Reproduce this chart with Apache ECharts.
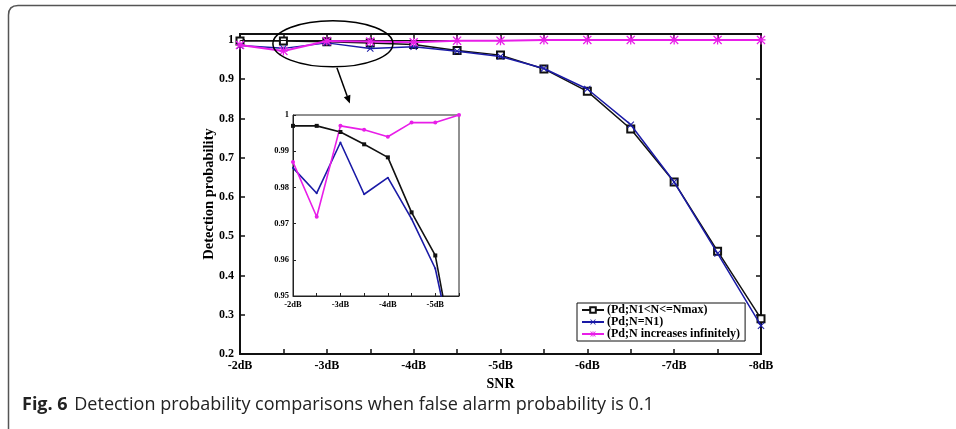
<!DOCTYPE html>
<html>
<head>
<meta charset="utf-8">
<script src="https://cdn.jsdelivr.net/npm/echarts@6/dist/echarts.min.js"></script>
<style>
  html, body { margin: 0; padding: 0; background: #fff; }
  #chart { width: 956px; height: 429px; }
</style>
</head>
<body>
<div id="chart"></div>
<script>
// SNR steps (0.5 dB)
var snrLabels = ['-2dB', '-2.5dB', '-3dB', '-3.5dB', '-4dB', '-4.5dB', '-5dB',
  '-5.5dB', '-6dB', '-6.5dB', '-7dB', '-7.5dB', '-8dB'];
// detection probability
var pdLimited = [0.997, 0.997, 0.9953, 0.9919, 0.9883, 0.9731, 0.9612, 0.926, 0.869, 0.773, 0.638, 0.462, 0.290];
var pdN1 = [0.9854, 0.9784, 0.9924, 0.9781, 0.9827, 0.9713, 0.9576, 0.927, 0.875, 0.784, 0.638, 0.456, 0.272];
var pdInfinite = [0.987, 0.9719, 0.997, 0.9959, 0.994, 0.9979, 0.9979, 1.0, 1.0, 1.0, 1.0, 1.0, 1.0];
var insetCount = 8; // zoomed view: -2dB .. -5.5dB

var nameA = '(Pd;N1<N<=Nmax)';
var nameB = '(Pd;N=N1)';
var nameC = '(Pd;N increases infinitely)';

var serif = '"Liberation Serif", "DejaVu Serif", serif';
var black = '#111111';
var blue = '#1a1aa6';
var magenta = '#e81ee8';

var crossPath = 'path://M0,1L1,0L5,4L9,0L10,1L6,5L10,9L9,10L5,6L1,10L0,9L4,5Z';
var starPath = 'path://M0,4.3L10,4.3L10,5.7L0,5.7Z M4.3,0L5.7,0L5.7,10L4.3,10Z M1,0L5,4L9,0L10,1L6,5L10,9L9,10L5,6L1,10L0,9L4,5L0,1Z';

var chart = echarts.init(document.getElementById('chart'));

var option = {
  animation: false,
  backgroundColor: '#fff',
  grid: [
    { left: 240, top: 34, right: 195, bottom: 75, show: true, borderColor: black, borderWidth: 1.5 },
    { left: 293, top: 115, width: 166, height: 181, show: true, backgroundColor: '#fff', borderColor: '#222', borderWidth: 1 }
  ],
  legend: {
    orient: 'vertical',
    left: 577,
    top: 303,
    padding: [1, 5, 1, 4],
    itemGap: 0,
    itemWidth: 22,
    itemHeight: 7,
    backgroundColor: '#fff',
    borderColor: black,
    borderWidth: 1,
    data: [nameA, nameB, nameC],
    textStyle: { fontFamily: serif, fontWeight: 'bold', fontSize: 12, lineHeight: 10, color: '#000', padding: [0, 0, 0, -2] }
  },
  xAxis: [
    {
      type: 'category', gridIndex: 0, data: snrLabels, boundaryGap: false,
      name: 'SNR', nameLocation: 'middle', nameGap: 21,
      nameTextStyle: { fontFamily: serif, fontWeight: 'bold', fontSize: 14, color: '#000' },
      axisLine: { lineStyle: { color: black, width: 2 } },
      axisTick: { inside: true, length: 5, interval: 0, lineStyle: { color: black, width: 1.5 } },
      axisLabel: { interval: 1, margin: 6, fontFamily: serif, fontWeight: 'bold', fontSize: 12, color: '#000' },
      splitLine: { show: false }
    },
    {
      type: 'category', gridIndex: 0, data: snrLabels, boundaryGap: false, position: 'top',
      axisLine: { lineStyle: { color: black, width: 2 } },
      axisTick: { inside: true, length: 5, interval: 0, lineStyle: { color: black, width: 1.5 } },
      axisLabel: { show: false },
      splitLine: { show: false }
    },
    {
      type: 'category', gridIndex: 1, data: snrLabels.slice(0, insetCount), boundaryGap: false,
      axisLine: { lineStyle: { color: '#222', width: 1 } },
      axisTick: { inside: true, length: 3, interval: 0, lineStyle: { color: '#222' } },
      axisLabel: { interval: 1, margin: 4, fontFamily: serif, fontWeight: 'bold', fontSize: 8.5, color: '#000' },
      splitLine: { show: false }
    }
  ],
  yAxis: [
    {
      type: 'value', gridIndex: 0, min: 0.2, max: 1.015, interval: 0.1,
      name: 'Detection probability', nameLocation: 'middle', nameGap: 23, nameMoveOverlap: false,
      nameTextStyle: { fontFamily: serif, fontWeight: 'bold', fontSize: 14.5, color: '#000' },
      axisLine: { show: true, lineStyle: { color: black, width: 2 } },
      axisTick: { show: true, inside: true, length: 5, lineStyle: { color: black, width: 1.5 } },
      axisLabel: {
        margin: 6, fontFamily: serif, fontWeight: 'bold', fontSize: 12, color: '#000',
        formatter: function (v) {
          var r = Math.round(v * 10) / 10;
          if (Math.abs(v - r) > 1e-6) return '';
          return r === 1 ? '1' : r.toFixed(1);
        }
      },
      splitLine: { show: false }
    },
    {
      type: 'value', gridIndex: 0, min: 0.2, max: 1.015, interval: 0.1, position: 'right',
      axisLine: { show: true, lineStyle: { color: black, width: 2 } },
      axisTick: { show: true, inside: true, length: 5, lineStyle: { color: black, width: 1.5 } },
      axisLabel: { show: false },
      splitLine: { show: false }
    },
    {
      type: 'value', gridIndex: 1, min: 0.95, max: 1, interval: 0.01,
      axisLine: { show: true, lineStyle: { color: '#222', width: 1 } },
      axisTick: { show: true, inside: true, length: 3, lineStyle: { color: '#222' } },
      axisLabel: {
        margin: 4, fontFamily: serif, fontWeight: 'bold', fontSize: 8.5, color: '#000',
        formatter: function (v) { return v >= 0.9999 ? '1' : v.toFixed(2); }
      },
      splitLine: { show: false }
    }
  ],
  series: [
    {
      name: nameA, type: 'line', xAxisIndex: 0, yAxisIndex: 0, z: 3,
      data: pdLimited, symbol: 'emptyRect', symbolSize: 7,
      lineStyle: { color: black, width: 1.5 },
      itemStyle: { color: black, borderColor: black, borderWidth: 1.2 },
      markLine: {
        silent: true, symbol: 'none', label: { show: false },
        lineStyle: { color: black, width: 1.2, type: 'solid' },
        data: [{ yAxis: 1 }]
      }
    },
    {
      name: nameB, type: 'line', xAxisIndex: 0, yAxisIndex: 0, z: 4,
      data: pdN1, symbol: crossPath, symbolSize: 7,
      lineStyle: { color: blue, width: 1.5 },
      itemStyle: { color: blue }
    },
    {
      name: nameC, type: 'line', xAxisIndex: 0, yAxisIndex: 0, z: 5,
      data: pdInfinite, symbol: starPath, symbolSize: 9,
      lineStyle: { color: magenta, width: 2 },
      itemStyle: { color: magenta }
    },
    {
      name: nameA, type: 'line', xAxisIndex: 2, yAxisIndex: 2, z: 6,
      data: pdLimited.slice(0, insetCount), symbol: 'rect', symbolSize: 4,
      lineStyle: { color: black, width: 1.6 }, itemStyle: { color: black }
    },
    {
      name: nameB, type: 'line', xAxisIndex: 2, yAxisIndex: 2, z: 6,
      data: pdN1.slice(0, insetCount), symbol: 'circle', symbolSize: 2,
      lineStyle: { color: blue, width: 1.6 }, itemStyle: { color: blue }
    },
    {
      name: nameC, type: 'line', xAxisIndex: 2, yAxisIndex: 2, z: 6,
      data: pdInfinite.slice(0, insetCount), symbol: 'circle', symbolSize: 4,
      lineStyle: { color: magenta, width: 1.6 }, itemStyle: { color: magenta }
    }
  ]
};

chart.setOption(option);

// pixel position on the main axes for a fractional category index
function mainPixel(idx, val) {
  var i0 = Math.floor(idx);
  var a = chart.convertToPixel({ xAxisIndex: 0, yAxisIndex: 0 }, [i0, val]);
  var b = chart.convertToPixel({ xAxisIndex: 0, yAxisIndex: 0 }, [i0 + 1, val]);
  return [a[0] + (b[0] - a[0]) * (idx - i0), a[1]];
}

// annotation ellipse around the zoomed region, arrow down to the inset
var c = mainPixel(2.14, 0.99);
var tip = mainPixel(2.53, 0.838);
var rx = 60, ry = 23;
var start = [c[0] + 4, c[1] + ry + 1];
var dx = tip[0] - start[0], dy = tip[1] - start[1];
var len = Math.sqrt(dx * dx + dy * dy);
var ux = dx / len, uy = dy / len;
var headL = 8, headW = 3.5;
var base = [tip[0] - ux * headL, tip[1] - uy * headL];

var frameStyle = { fill: 'none', stroke: '#555', lineWidth: 1.5 };

chart.setOption({
  graphic: [
    // page frame: left and top edges with a rounded corner
    { type: 'line', silent: true, z: -1, shape: { x1: 8.5, y1: 15, x2: 8.5, y2: 440 }, style: frameStyle },
    { type: 'line', silent: true, z: -1, shape: { x1: 18, y1: 5.5, x2: 960, y2: 5.5 }, style: frameStyle },
    { type: 'bezierCurve', silent: true, z: -1, shape: { x1: 8.5, y1: 15, cpx1: 8.5, cpy1: 5.5, x2: 18, y2: 5.5 }, style: frameStyle },
    {
      type: 'ellipse', silent: true, z: 100,
      shape: { cx: c[0], cy: c[1], rx: rx, ry: ry },
      style: { fill: 'none', stroke: '#000', lineWidth: 1.5 }
    },
    {
      type: 'line', silent: true, z: 100,
      shape: { x1: start[0], y1: start[1], x2: base[0], y2: base[1] },
      style: { stroke: '#000', lineWidth: 1.5 }
    },
    {
      type: 'polygon', silent: true, z: 100,
      shape: {
        points: [tip, [base[0] - uy * headW, base[1] + ux * headW], [base[0] + uy * headW, base[1] - ux * headW]]
      },
      style: { fill: '#000' }
    },
    {
      type: 'text', silent: true, left: 22, top: 396,
      style: {
        text: '{b|Fig. 6}  {n|Detection probability comparisons when false alarm probability is 0.1}',
        rich: {
          b: { fontFamily: '"Open Sans", "Noto Sans", sans-serif', fontWeight: 'bold', fontSize: 18, fill: '#222' },
          n: { fontFamily: '"Open Sans", "Noto Sans", sans-serif', fontSize: 18, fill: '#222' }
        }
      }
    }
  ]
});
</script>
</body>
</html>
